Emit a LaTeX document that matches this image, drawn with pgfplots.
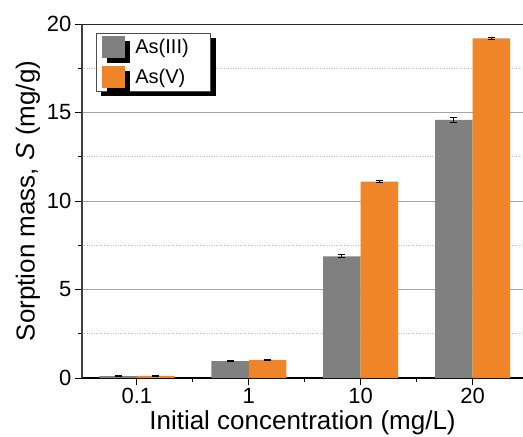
\documentclass[border=0pt]{standalone}
\usepackage{fontspec}
\setmainfont{Liberation Sans}
\usepackage{pgfplots}
\pgfplotsset{compat=1.18}
\usetikzlibrary{calc,shadows}
\definecolor{asIII}{RGB}{128,128,128}
\definecolor{asV}{RGB}{239,132,41}
\definecolor{gridc}{RGB}{165,165,165}
\begin{document}
\begin{tikzpicture}
\begin{axis}[
  width=441pt, height=354pt, scale only axis,
  xmin=-0.49, xmax=3.45, ymin=0, ymax=20,
  ybar=0pt, bar width=37.5pt,
  xtick={0,1,2,3}, xticklabels={0.1,1,10,20},
  minor xtick={0.5,1.5,2.5},
  ytick={0,5,10,15,20}, minor ytick={2.5,7.5,12.5,17.5},
  axis x line*=bottom, axis y line*=left,
  x axis line style={black,line width=1.5pt},
  y axis line style={black!75,line width=1.5pt},
  tick align=outside,
  major tick length=7pt, minor tick length=4pt,
  tick style={black,line width=1pt},
  ymajorgrids, yminorgrids,
  major grid style={gridc,line width=0.9pt},
  minor grid style={gridc!70,dotted,line width=0.7pt},
  tick label style={font=\fontsize{22}{24}\selectfont},
  /pgf/number format/assume math mode=true,
  label style={font=\fontsize{26}{28}\selectfont},
  xlabel={Initial concentration (mg/L)},
  ylabel={Sorption mass, \textit{S} (mg/g)},
  legend cell align=left,
  legend style={at={(axis description cs:0.032,0.975)}, anchor=north west,
    draw=black!70, line width=0.6pt, fill=white,
    font=\fontsize{20}{22}\selectfont,
    drop shadow={shadow xshift=5pt, shadow yshift=-5pt, fill=black, opacity=1},
    inner xsep=6pt, inner ysep=3pt, row sep=8pt, column sep=8pt},
]
\addplot[fill=asIII, draw=none,
  error bars/.cd, y dir=both, y explicit,
  error bar style={black,line width=1pt},
  error mark options={rotate=90,mark size=3.5pt,black,line width=1pt},
  /pgfplots/legend image code/.code={\fill[asIII] (0pt,-11pt) rectangle (23pt,11pt);}]
  coordinates {(0,0.11) +- (0,0.01) (1,0.95) +- (0,0.02) (2,6.87) +- (0,0.08) (3,14.58) +- (0,0.16)};
\addlegendentry{As(III)\rule{14pt}{0pt}}
\addplot[fill=asV, draw=none,
  error bars/.cd, y dir=both, y explicit,
  error bar style={black,line width=1pt},
  error mark options={rotate=90,mark size=3.5pt,black,line width=1pt},
  /pgfplots/legend image code/.code={\fill[asV] (0pt,-11pt) rectangle (23pt,11pt);}]
  coordinates {(0,0.12) +- (0,0.01) (1,1.02) +- (0,0.02) (2,11.09) +- (0,0.04) (3,19.19) +- (0,0.04)};
\addlegendentry{As(V)}
\draw[black!85,line width=1.5pt] (rel axis cs:0,1) -- (rel axis cs:1,1);
\end{axis}
\pgfresetboundingbox
\path ($(current axis.south west)+(-82pt,-59pt)$) rectangle ($(current axis.north east)+(0pt,24pt)$);
\end{tikzpicture}
\end{document}
